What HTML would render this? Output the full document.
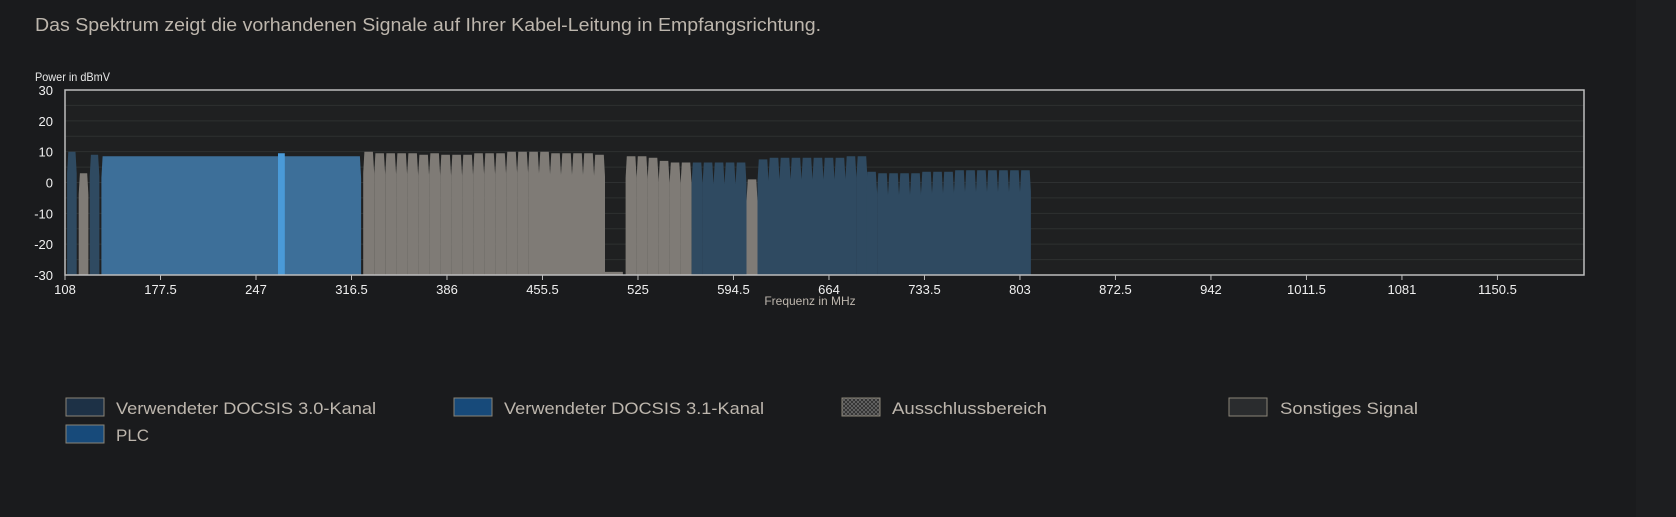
<!DOCTYPE html>
<html><head><meta charset="utf-8"><style>
html,body{margin:0;padding:0;background:#1a1b1d;width:1676px;height:517px;overflow:hidden}
svg{display:block;font-family:"Liberation Sans",sans-serif}
</style></head><body>
<svg id="chart" width="1676" height="517" viewBox="0 0 1676 517">
<defs>
<pattern id="hatch" width="4" height="4" patternUnits="userSpaceOnUse"><rect width="4" height="4" fill="#2a2a2a"/><path d="M0 0L4 4M4 0L0 4" stroke="#6a6a6a" stroke-width="0.8"/></pattern>
</defs>
<rect x="1636" y="0" width="40" height="517" fill="#1d1e20"/>
<text x="35" y="31" font-size="18" fill="#bdb6ad" textLength="786" lengthAdjust="spacingAndGlyphs">Das Spektrum zeigt die vorhandenen Signale auf Ihrer Kabel-Leitung in Empfangsrichtung.</text>
<text x="35" y="81" font-size="12" fill="#e8e8e8" textLength="75" lengthAdjust="spacingAndGlyphs">Power in dBmV</text>
<rect x="65" y="90" width="1519" height="185" fill="#1f2021"/>
<g id="grid"></g>
<g id="marks"></g>
<rect x="65" y="90" width="1519" height="185" fill="none" stroke="#bdbdbd" stroke-width="1.5"/>
<g id="axes"></g>
<text x="810" y="305" font-size="12" fill="#bdb6ad" text-anchor="middle">Frequenz in MHz</text>
<g>
<g><rect x="66" y="398" width="38" height="18" fill="#1d3146" stroke="#8a8478"/><text x="116" y="414" font-size="17" fill="#bdb6ad" textLength="260" lengthAdjust="spacingAndGlyphs">Verwendeter DOCSIS 3.0-Kanal</text></g>
<g><rect x="454" y="398" width="38" height="18" fill="#174a7a" stroke="#8a8478"/><text x="504" y="414" font-size="17" fill="#bdb6ad" textLength="260" lengthAdjust="spacingAndGlyphs">Verwendeter DOCSIS 3.1-Kanal</text></g>
<g><rect x="842" y="398" width="38" height="18" fill="url(#hatch)" stroke="#8a8478"/><text x="892" y="414" font-size="17" fill="#bdb6ad" textLength="155" lengthAdjust="spacingAndGlyphs">Ausschlussbereich</text></g>
<g><rect x="1229" y="398" width="38" height="18" fill="#2a2c2e" stroke="#8a8478"/><text x="1280" y="414" font-size="17" fill="#bdb6ad" textLength="138" lengthAdjust="spacingAndGlyphs">Sonstiges Signal</text></g>
<g><rect x="66" y="425" width="38" height="18" fill="#174a7a" stroke="#8a8478"/><text x="116" y="441" font-size="17" fill="#bdb6ad">PLC</text></g>
</g>
</svg>
<script>
// channel data (MHz, dBmV)
const chCenter = [113,121.5,129.5,229,265.5,
 329,337,345,353,361,369,377,385,393,401,409,417,425,433,441,449,457,465,473,481,489,497,
 520,528,536,544,552,560,
 568,576,584,592,600,
 608,
 616,624,632,640,648,656,664,672,680,688,
 695,703,711,719,727,735,743,751,759,767,775,783,791,799,807];
const chWidth = [7,7,7,189,5,
 8,8,8,8,8,8,8,8,8,8,8,8,8,8,8,8,8,8,8,8,8,8,
 8,8,8,8,8,8, 8,8,8,8,8, 8, 8,8,8,8,8,8,8,8,8,8,
 8,8,8,8,8,8,8,8,8,8,8,8,8,8,8];
const chLevel = [10,3,9,8.5,9.5,
 10,9.5,9.5,9.5,9.5,9,9.5,9,9,9,9.5,9.5,9.5,10,10,10,10,9.5,9.5,9.5,9.5,9,
 8.5,8.5,8,7,6.5,6.5,
 6.5,6.5,6.5,6.5,6.5,
 1,
 7.5,8,8,8,8,8,8,8,8.5,8.5,
 3.5,3,3,3,3,3.5,3.5,3.5,4,4,4,4,4,4,4];
const chType = ['d30','other','d30','d31','plc',
 'o','o','o','o','o','o','o','o','o','o','o','o','o','o','o','o','o','o','o','o','o','o',
 'o','o','o','o','o','o',
 'd30','d30','d30','d30','d30',
 'o',
 'd30','d30','d30','d30','d30','d30','d30','d30','d30','d30',
 'd30','d30','d30','d30','d30','d30','d30','d30','d30','d30','d30','d30','d30','d30','d30'];
const xTicks = [108,177.5,247,316.5,386,455.5,525,594.5,664,733.5,803,872.5,942,1011.5,1081,1150.5];
const yTicks = [30,20,10,0,-10,-20,-30];
const gap = [500,514,-29];

const X0=65,X1=1584,Y0=90,Y1=275,FMIN=108,FMAX=1213.5,VMIN=-30,VMAX=30;
const sx=f=>X0+(f-FMIN)/(FMAX-FMIN)*(X1-X0);
const sy=v=>Y1-(v-VMIN)/(VMAX-VMIN)*(Y1-Y0);
const NS='http://www.w3.org/2000/svg';
const mk=(t,a,p)=>{const e=document.createElementNS(NS,t);for(const k in a)e.setAttribute(k,a[k]);p.appendChild(e);return e;};
const grid=document.getElementById('grid'),marks=document.getElementById('marks'),axes=document.getElementById('axes');
for(let v=-25;v<30;v+=5){
  const g=mk('line',{x1:X0,x2:X1,y1:sy(v),y2:sy(v),stroke:'#2e3031','stroke-width':1},grid);
  
  
}
const colors={d30:'#2f4a61',d31:'#3d6f99',plc:'#4a9ad8',o:'#7f7b76',other:'#7f7b76'};
const order=[]; chType.forEach((t,i)=>{if(t!=='plc')order.push(i)}); chType.forEach((t,i)=>{if(t==='plc')order.push(i)});
order.forEach(i=>{
  const s=chCenter[i]-chWidth[i]/2,e=chCenter[i]+chWidth[i]/2,l=chLevel[i];
  const d=Math.min(0.9,chWidth[i]/8);
  const dip=chType[i]==='plc'?l:l-7;
  const pts=[[s,VMIN],[s,dip],[s+d,l],[e-d,l],[e,dip],[e,VMIN]].map(p=>sx(p[0]).toFixed(1)+','+sy(p[1]).toFixed(1)).join(' ');
  const p=mk('polygon',{points:pts,fill:colors[chType[i]]},marks);
  
  
});
const gp=mk('polygon',{points:[[gap[0],VMIN],[gap[0],gap[2]],[gap[1],gap[2]],[gap[1],VMIN]].map(p=>sx(p[0])+','+sy(p[1])).join(' '),fill:'#7f7b76'},marks);


yTicks.forEach(v=>{
  const t=mk('text',{x:53,y:sy(v)+5,'font-size':13,fill:'#f0f0f0','text-anchor':'end'},axes);t.textContent=v;
  
  
});
xTicks.forEach(v=>{
  const l=mk('line',{x1:sx(v),x2:sx(v),y1:Y1,y2:Y1+5,stroke:'#bdbdbd'},axes);
  
  
  const t=mk('text',{x:sx(v),y:Y1+19,'font-size':13,fill:'#f0f0f0','text-anchor':'middle'},axes);t.textContent=v;
  
  
});
</script>
</body></html>
